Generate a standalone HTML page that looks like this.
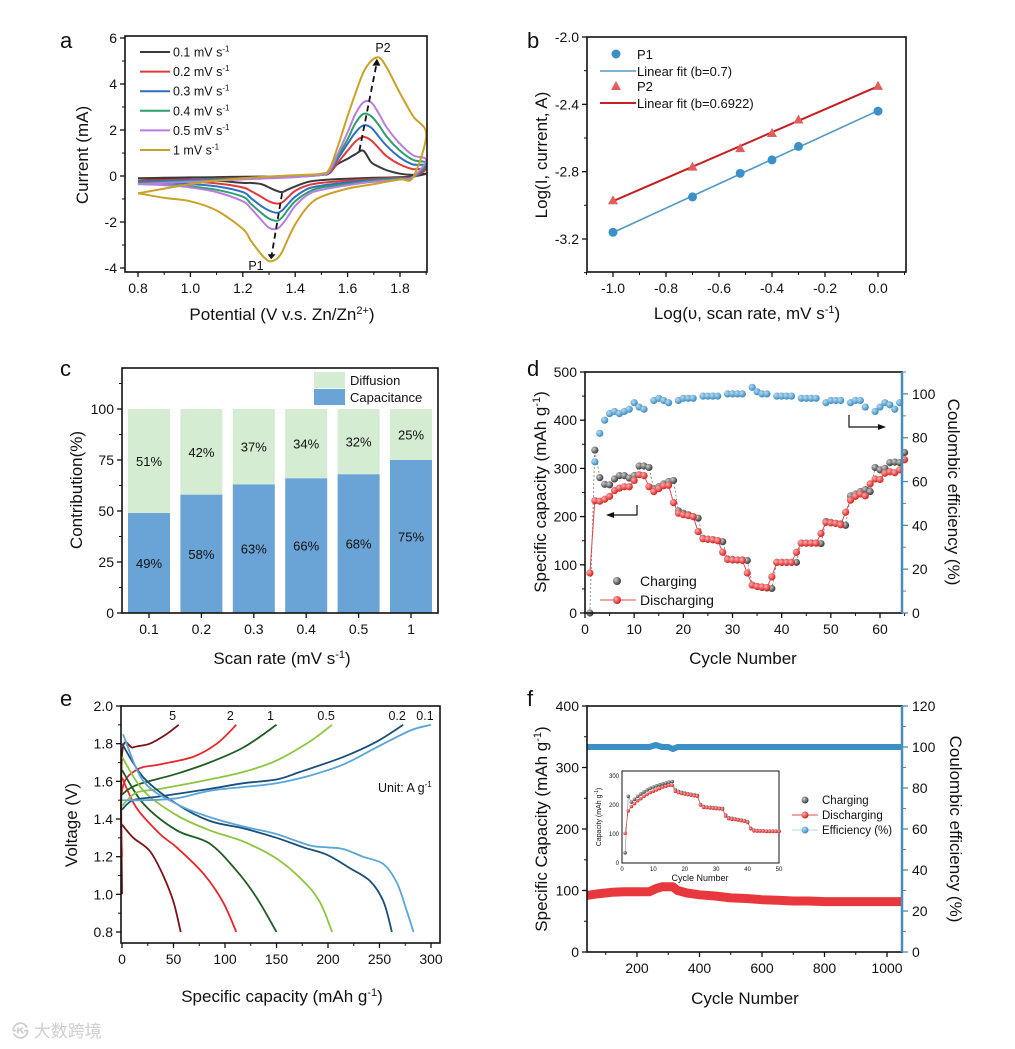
<!DOCTYPE html>
<html><head><meta charset="utf-8">
<style>
html,body{margin:0;padding:0;background:#fff;}
svg{display:block;font-family:"Liberation Sans","Noto Sans CJK SC",sans-serif;}
</style></head>
<body>
<svg id="fig" width="1015" height="1049" viewBox="0 0 1015 1049"></svg>
<script>
// ---------- Panel a data (CV curves) ----------
const cvVf = [0.8,0.9,1.0,1.1,1.2,1.3,1.4,1.5,1.53,1.56,1.6,1.63,1.66,1.69,1.72,1.75,1.8,1.85,1.9];
const cvVr = [1.9,1.85,1.8,1.7,1.6,1.5,1.45,1.4,1.37,1.35,1.33,1.3,1.27,1.23,1.2,1.1,1.0,0.9,0.8];
const cvLabels = ['0.1 mV s','0.2 mV s','0.3 mV s','0.4 mV s','0.5 mV s','1 mV s'];
const cvColors = ['#3a3a3a','#e03b3b','#2f6fc0','#2e9e6a','#b77de0','#c9a227'];
const cvFwd = [
 [-0.1,-0.08,-0.06,-0.05,-0.03,-0.02,0,0.05,0.12,0.5,0.75,0.95,1.1,0.6,0.4,0.25,0.1,0.05,0.1],
 [-0.2,-0.18,-0.15,-0.12,-0.09,-0.06,-0.03,0.05,0.15,0.55,1.1,1.5,1.7,1.55,1.2,0.85,0.5,0.3,0.3],
 [-0.25,-0.22,-0.18,-0.14,-0.1,-0.07,-0.03,0.05,0.18,0.7,1.4,1.9,2.2,2.1,1.7,1.3,0.8,0.5,0.45],
 [-0.3,-0.27,-0.22,-0.17,-0.12,-0.08,-0.04,0.05,0.2,0.8,1.6,2.3,2.7,2.6,2.2,1.7,1.1,0.7,0.55],
 [-0.35,-0.3,-0.25,-0.2,-0.15,-0.1,-0.05,0.05,0.2,0.9,1.9,2.7,3.2,3.2,2.7,2.1,1.4,0.9,0.7],
 [-0.75,-0.55,-0.35,-0.2,-0.1,-0.02,0.03,0.1,0.3,1.2,2.6,3.6,4.5,5.0,5.15,4.7,3.6,2.6,1.8]
];
const cvRev = [
 [0.05,-0.02,-0.05,-0.08,-0.12,-0.18,-0.25,-0.45,-0.6,-0.7,-0.65,-0.5,-0.35,-0.3,-0.3,-0.2,-0.15,-0.12,-0.1],
 [0.15,-0.04,-0.08,-0.13,-0.2,-0.3,-0.4,-0.65,-0.95,-1.15,-1.2,-1.1,-0.9,-0.65,-0.5,-0.32,-0.25,-0.2,-0.2],
 [0.2,-0.05,-0.1,-0.17,-0.28,-0.42,-0.55,-0.9,-1.25,-1.5,-1.6,-1.5,-1.3,-0.95,-0.7,-0.45,-0.35,-0.28,-0.25],
 [0.25,-0.05,-0.12,-0.2,-0.35,-0.5,-0.7,-1.1,-1.5,-1.8,-1.95,-1.85,-1.6,-1.2,-0.9,-0.6,-0.45,-0.35,-0.3],
 [0.3,-0.05,-0.15,-0.25,-0.4,-0.6,-0.8,-1.3,-1.8,-2.1,-2.3,-2.25,-1.9,-1.4,-1.1,-0.7,-0.5,-0.4,-0.35],
 [0.4,-0.05,-0.15,-0.35,-0.55,-0.9,-1.3,-2.1,-2.8,-3.3,-3.6,-3.7,-3.4,-2.8,-2.3,-1.5,-1.1,-0.95,-0.75]
];
// ---------- Panel b data ----------
const logRate = [-1,-0.7,-0.52,-0.4,-0.3,0];
const logP1 = [-3.16,-2.95,-2.81,-2.73,-2.65,-2.44];
const logP2 = [-2.97,-2.77,-2.66,-2.57,-2.49,-2.29];
// ---------- Panel c data ----------
const rateCats = ['0.1','0.2','0.3','0.4','0.5','1'];
const capPct = [49,58,63,66,68,75];
const diffPct = [51,42,37,34,32,25];
// ---------- Panel d data ----------
const chg = [0,338,281,267,266,278,285,285,280,285,305,305,302,258,262,268,273,275,212,207,204,200,197,155,153,152,150,148,112,111,110,110,109,58,55,53,52,51,105,105,105,105,105,145,145,145,145,144,190,188,186,185,182,243,247,252,256,252,302,297,300,312,313,312,333];
const dis = [83,233,232,236,242,254,259,262,262,275,287,285,262,252,258,264,265,229,207,204,202,200,169,154,153,152,150,126,111,110,110,109,83,58,55,54,53,75,105,105,105,105,126,145,145,145,145,165,188,187,186,183,209,234,242,247,243,268,278,277,290,293,291,297,318];
const ce = [null,69,82,88,91,92,91,92,93,96,94,93,null,97,98,97,96,null,97,98,98,98,null,99,99,99,99,null,100,100,100,100,null,103,101,100,100,null,99,99,99,99,null,98,98,98,98,null,96,97,97,97,null,96,97,97,94,null,92,94,96,95,93,96,null];
// ---------- Panel e data (GCD) ----------
const gcdRates = ['5','2','1','0.5','0.2','0.1'];
const gcdColors = ['#7a1218','#e8262a','#1f5e22','#8cc63f','#1a4f7a','#5aa6d6'];
const gcdDisCap = [[0,11,27,40,50,57],[0,14,37,53,79,98,111],[0,21,53,85,112,131,150],[0,21,53,85,118,150,176,192,204],[0,21,53,85,118,150,176,199,221,241,254,262],[1,21,53,85,118,150,182,199,215,234,254,267,276,283]];
const gcdDisV = [[1.37,1.30,1.23,1.10,0.96,0.80],[1.62,1.46,1.32,1.25,1.11,0.96,0.80],[1.66,1.48,1.34,1.27,1.12,0.98,0.80],[1.73,1.55,1.42,1.34,1.28,1.19,1.07,0.96,0.80],[1.80,1.62,1.48,1.39,1.35,1.30,1.25,1.21,1.14,1.07,0.96,0.80],[1.85,1.60,1.48,1.41,1.36,1.32,1.26,1.25,1.24,1.20,1.16,1.06,0.92,0.80]];
const gcdChgCap = [[0,0,11,27,43,55],[0,0,14,37,69,92,111],[0,14,53,85,118,150],[0,14,37,85,118,150,182,204],[0,11,37,85,118,150,173,215,247,273],[0,21,53,85,118,150,182,215,247,280,300]];
const gcdChgV = [[1.0,1.74,1.78,1.80,1.85,1.90],[1.2,1.55,1.66,1.69,1.73,1.80,1.90],[1.53,1.58,1.64,1.70,1.78,1.90],[1.47,1.54,1.56,1.61,1.65,1.71,1.81,1.90],[1.45,1.50,1.52,1.56,1.59,1.61,1.65,1.73,1.81,1.90],[1.50,1.50,1.51,1.55,1.57,1.59,1.63,1.69,1.78,1.87,1.90]];
// ---------- Panel f data ----------
const longCyc = [40,80,120,160,200,240,260,280,300,315,330,360,400,450,500,550,600,650,700,750,800,850,900,950,1000,1048];
const longDis = [92,95,97,98,98,98,103,106,106,106,100,96,93,91,88,87,85,84,83,83,82,82,82,82,82,82];
const longCE = [100,100,100,100,100,100,101,100,100,99,100,100,100,100,100,100,100,100,100,100,100,100,100,100,100,100];
const insetCyc = [1,2,3,4,5,6,7,8,9,10,11,12,13,14,15,16,17,18,19,20,21,22,23,24,25,26,27,28,29,30,31,32,33,34,35,36,37,38,39,40,41,42,43,44,45,46,47,48,49,50];
const insetChg = [35,230,210,220,230,238,245,252,258,262,266,270,273,276,279,281,252,247,244,241,239,237,235,233,202,195,193,192,191,190,189,188,165,156,154,152,150,148,146,142,120,113,112,111,111,110,110,110,110,110];
const insetDis = [102,180,195,205,215,222,230,237,243,248,252,257,262,265,268,268,247,243,240,238,236,234,232,230,200,192,191,190,189,188,187,186,162,153,151,150,148,146,144,140,118,111,110,110,110,109,109,109,109,109];

const NS='http://www.w3.org/2000/svg';
const svg=document.getElementById('fig');
function mk(tag,attrs,name,parent){
  const el=document.createElementNS(NS,tag);
  for(const k in attrs) el.setAttribute(k,attrs[k]);
  
  
  (parent||svg).appendChild(el);
  return el;
}
function txt(x,y,s,size,name,opts){
  opts=opts||{};
  const t=mk('text',{x:x,y:y,'font-size':size,fill:opts.fill||'#111','text-anchor':opts.anchor||'middle'},name);
  if(opts.rot) t.setAttribute('transform','rotate('+opts.rot+' '+x+' '+y+')');
  t.innerHTML=s;
  return t;
}
function lin(d0,d1,r0,r1){return v=>r0+(v-d0)/(d1-d0)*(r1-r0);}
function box(l,t,r,b,name){mk('rect',{x:l,y:t,width:r-l,height:b-t,fill:'none',stroke:'#111','stroke-width':1.6},name);}
const TF=14, AF=17;
function xTicks(sx,vals,fmt,b,name,minor){
  vals.forEach(v=>{const x=sx(v);
    mk('line',{x1:x,y1:b,x2:x,y2:b+5,stroke:'#111','stroke-width':1.3},name+'-tick');
    txt(x,b+21,fmt(v),TF,name+'-label');});
  if(minor) minor.forEach(v=>{const x=sx(v);mk('line',{x1:x,y1:b,x2:x,y2:b+3,stroke:'#111','stroke-width':1},name+'-minor-tick');});
}
function yTicks(sy,vals,fmt,l,name,minor,right,color){
  const c=color||'#111';
  vals.forEach(v=>{const y=sy(v);
    mk('line',{x1:l,y1:y,x2:right?l+5:l-5,y2:y,stroke:c,'stroke-width':1.3},name+'-tick');
    txt(right?l+9:l-8,y+5,fmt(v),TF,name+'-label',{anchor:right?'start':'end'});});
  if(minor) minor.forEach(v=>{const y=sy(v);mk('line',{x1:l,y1:y,x2:right?l+3:l-3,y2:y,stroke:c,'stroke-width':1},name+'-minor-tick');});
}
function pathOf(xs,ys,sx,sy){let d='';let pen=false;xs.forEach((x,i)=>{if(ys[i]==null){pen=false;return;}d+=(pen?'L':'M')+sx(x).toFixed(1)+' '+sy(ys[i]).toFixed(1);pen=true;});return d;}
function smoothPts(P){
  if(P.length<3){return 'M'+P.map(p=>p[0].toFixed(1)+' '+p[1].toFixed(1)).join(' L');}
  let d='M'+P[0][0].toFixed(1)+' '+P[0][1].toFixed(1);
  for(let i=0;i<P.length-1;i++){
    const p0=P[Math.max(0,i-1)],p1=P[i],p2=P[i+1],p3=P[Math.min(P.length-1,i+2)];
    const c1=[p1[0]+(p2[0]-p0[0])/6,p1[1]+(p2[1]-p0[1])/6],c2=[p2[0]-(p3[0]-p1[0])/6,p2[1]-(p3[1]-p1[1])/6];
    d+='C'+c1[0].toFixed(1)+' '+c1[1].toFixed(1)+' '+c2[0].toFixed(1)+' '+c2[1].toFixed(1)+' '+p2[0].toFixed(1)+' '+p2[1].toFixed(1);
  }
  return d;
}
function smoothOf(xs,ys,sx,sy){return smoothPts(xs.map((x,i)=>[sx(x),sy(ys[i])]));}
function range(a,b,s){const r=[];for(let v=a;v<=b+1e-9;v+=s)r.push(+v.toFixed(4));return r;}
const gradDefs=mk('defs',{},'defs');
function grad(id,c1,c2){const g=mk('radialGradient',{id:id,cx:'35%',cy:'35%',r:'65%'},'marker-gradient',gradDefs);
 mk('stop',{offset:'0%','stop-color':c1},'grad-stop',g);mk('stop',{offset:'100%','stop-color':c2},'grad-stop',g);}
grad('gGray','#cfcfcf','#3a3a3a');grad('gRed','#ffb0b0','#d62020');grad('gBlue','#b7dcf2','#3c8cc0');

// panel letters
[['a',60,48],['b',527,48],['c',60,376],['d',527,376],['e',60,706],['f',527,706]].forEach(p=>txt(p[1],p[2],p[0],22,'panel-label-'+p[0],{anchor:'start'}));

// ================= Panel a =================
{
 const xa=lin(0.8,1.8,138,400), ya=lin(-4,6,268,38);
 const g=mk('g',{},'cv-curves');
 for(let i=0;i<6;i++){
  const xs=cvVf.concat(cvVr.slice(1)), ys=cvFwd[i].concat(cvRev[i].slice(1));
  mk('path',{d:smoothOf(xs,ys,xa,ya),fill:'none',stroke:cvColors[i],'stroke-width':2,'stroke-linejoin':'round'},'cv-curve-'+cvLabels[i].split(' ')[0],g);
 }
 box(125,36,427,272,'cv-plot-frame');
 xTicks(xa,range(0.8,1.8,0.2),v=>v.toFixed(1),272,'cv-x',range(0.9,1.9,0.2));
 yTicks(ya,range(-4,6,2),v=>String(v),125,'cv-y',range(-3,5,2));
 mk('line',{x1:xa(1.35),y1:ya(-0.75),x2:xa(1.31),y2:ya(-3.45),stroke:'#111','stroke-width':1.8,'stroke-dasharray':'6 4'},'p1-arrow');
 mk('path',{d:'M'+(xa(1.31)-4)+' '+(ya(-3.4))+' L'+xa(1.308)+' '+(ya(-3.62))+' L'+(xa(1.31)+4)+' '+ya(-3.4)+'Z',fill:'#111'},'p1-arrowhead');
 mk('line',{x1:xa(1.645),y1:ya(1.1),x2:xa(1.71),y2:ya(4.85),stroke:'#111','stroke-width':1.8,'stroke-dasharray':'6 4'},'p2-arrow');
 mk('path',{d:'M'+(xa(1.71)-4)+' '+ya(4.8)+' L'+xa(1.712)+' '+ya(5.1)+' L'+(xa(1.71)+4)+' '+ya(4.8)+'Z',fill:'#111'},'p2-arrowhead');
 txt(256,270,'P1',12.5,'p1-label');
 txt(383,52,'P2',12.5,'p2-label');
 for(let i=0;i<6;i++){const y=52+i*19.6;
  mk('line',{x1:140,y1:y,x2:170,y2:y,stroke:cvColors[i],'stroke-width':2},'cv-legend-line');
  txt(173,y+4.5,cvLabels[i]+'<tspan dy="-5" font-size="8">-1</tspan>',12.5,'cv-legend-entry',{anchor:'start'});}
 txt(88,155,'Current (mA)',AF,'cv-y-axis-title',{rot:-90});
 txt(282,320,'Potential (V v.s. Zn/Zn<tspan dy="-6" font-size="11">2+</tspan><tspan dy="6">)</tspan>',AF,'cv-x-axis-title');
}
// ================= Panel b =================
{
 const xb=lin(-1,0,613,878), yb=lin(-3.2,-2.0,239,37);
 function fit(xs,ys){const n=xs.length,mx=xs.reduce((a,b)=>a+b)/n,my=ys.reduce((a,b)=>a+b)/n;let sxy=0,sxx=0;xs.forEach((x,i)=>{sxy+=(x-mx)*(ys[i]-my);sxx+=(x-mx)*(x-mx);});const k=sxy/sxx;return [k,my-k*mx];}
 const f1=fit(logRate,logP1),f2=fit(logRate,logP2);
 mk('line',{x1:xb(-1),y1:yb(f1[1]-f1[0]),x2:xb(0),y2:yb(f1[1]),stroke:'#4f9bc4','stroke-width':1.6},'p1-fit-line');
 mk('line',{x1:xb(-1),y1:yb(f2[1]-f2[0]),x2:xb(0),y2:yb(f2[1]),stroke:'#c41e1e','stroke-width':2},'p2-fit-line');
 logRate.forEach((x,i)=>{mk('circle',{cx:xb(x),cy:yb(logP1[i]),r:4.5,fill:'#3d8fc8'},'p1-point');
  const cx=xb(x),cy=yb(logP2[i]);mk('path',{d:'M'+(cx-5)+' '+(cy+4)+' L'+cx+' '+(cy-5)+' L'+(cx+5)+' '+(cy+4)+'Z',fill:'#e35d5d'},'p2-point');});
 box(587,37,906,272,'log-plot-frame');
 xTicks(xb,range(-1,0,0.2),v=>v.toFixed(1),272,'log-x',range(-1.1,0.1,0.2));
 yTicks(yb,range(-3.2,-2.0,0.4),v=>v.toFixed(1),587,'log-y',range(-3.4,-2.2,0.4));
 mk('circle',{cx:616,cy:54,r:4.5,fill:'#3d8fc8'},'legend-p1-marker');
 txt(637,59,'P1',13,'legend-p1',{anchor:'start'});
 mk('line',{x1:600,y1:71,x2:636,y2:71,stroke:'#4f9bc4','stroke-width':1.6},'legend-fit1-line');
 txt(637,76,'Linear fit (b=0.7)',13,'legend-fit1',{anchor:'start'});
 mk('path',{d:'M611 90 L616 81 L621 90Z',fill:'#e35d5d'},'legend-p2-marker');
 txt(637,91,'P2',13,'legend-p2',{anchor:'start'});
 mk('line',{x1:600,y1:103,x2:636,y2:103,stroke:'#c41e1e','stroke-width':2},'legend-fit2-line');
 txt(637,108,'Linear fit (b=0.6922)',13,'legend-fit2',{anchor:'start'});
 txt(547,155,'Log(I, current, A)',AF,'log-y-axis-title',{rot:-90});
 txt(747,319,'Log(υ, scan rate, mV s<tspan dy="-6" font-size="11">-1</tspan><tspan dy="6">)</tspan>',AF,'log-x-axis-title');
}
// ================= Panel c =================
{
 const yc=lin(0,100,613,409);
 const xc=i=>149+i*52.4;
 rateCats.forEach((c,i)=>{const x=xc(i)-21;
  mk('rect',{x:x,y:yc(100),width:42,height:yc(capPct[i])-yc(100),fill:'#d4ecd1'},'bar-diffusion-'+c);
  mk('rect',{x:x,y:yc(capPct[i]),width:42,height:yc(0)-yc(capPct[i]),fill:'#6aa3d5'},'bar-capacitance-'+c);
  txt(xc(i),yc(capPct[i]/2)+5,capPct[i]+'%',13,'capacitance-value-label');
  txt(xc(i),yc(capPct[i]+diffPct[i]/2)+5,diffPct[i]+'%',13,'diffusion-value-label');
  mk('line',{x1:xc(i),y1:613,x2:xc(i),y2:618,stroke:'#111','stroke-width':1.3},'contrib-x-tick');
  txt(xc(i),634,c,TF,'contrib-x-label');
 });
 box(122,368,438,613,'contrib-plot-frame');
 yTicks(yc,[0,25,50,75,100],v=>String(v),122,'contrib-y',[12.5,37.5,62.5,87.5,112.5]);
 mk('rect',{x:314,y:372,width:31,height:16,fill:'#d4ecd1'},'legend-diffusion-swatch');
 txt(350,385,'Diffusion',13,'legend-diffusion',{anchor:'start'});
 mk('rect',{x:314,y:389,width:31,height:16,fill:'#6aa3d5'},'legend-capacitance-swatch');
 txt(350,402,'Capacitance',13,'legend-capacitance',{anchor:'start'});
 txt(82,490,'Contribution(%)',AF,'contrib-y-axis-title',{rot:-90});
 txt(282,664,'Scan rate (mV s<tspan dy="-6" font-size="11">-1</tspan><tspan dy="6">)</tspan>',AF,'contrib-x-axis-title');
}
// ================= Panel d =================
{
 const xd=lin(0,60,585,880), yd=lin(0,500,613,372), yr=lin(0,110,613,372);
 const cyc=chg.map((_,i)=>i+1);
 mk('path',{d:pathOf(cyc,chg,xd,yd),fill:'none',stroke:'#777','stroke-width':0.8,'stroke-dasharray':'2 2'},'charging-line');
 mk('path',{d:pathOf(cyc,dis,xd,yd),fill:'none',stroke:'#e04848','stroke-width':1},'discharging-line');
 cyc.forEach((c,i)=>{mk('circle',{cx:xd(c),cy:yd(chg[i]),r:3.6,fill:'url(#gGray)'},'charging-point');});
 cyc.forEach((c,i)=>{mk('circle',{cx:xd(c),cy:yd(dis[i]),r:3.6,fill:'url(#gRed)'},'discharging-point');});
 cyc.forEach((c,i)=>{if(ce[i]!=null)mk('circle',{cx:xd(c),cy:yr(ce[i]),r:3.6,fill:'url(#gBlue)'},'efficiency-point');});
 mk('rect',{x:585,y:372,width:317,height:241,fill:'none',stroke:'#111','stroke-width':1.6},'rate-plot-frame');
 mk('line',{x1:902,y1:372,x2:902,y2:613,stroke:'#4a8db7','stroke-width':2.5},'rate-right-axis');
 xTicks(xd,range(0,60,10),v=>String(v),613,'rate-x',range(5,65,10));
 yTicks(yd,range(0,500,100),v=>String(v),585,'rate-y',range(50,450,100));
 yTicks(yr,range(0,100,20),v=>String(v),903,'rate-y2',range(10,110,20),true,'#4a8db7');
 mk('path',{d:'M637 505 L637 515 L608 515',fill:'none',stroke:'#111','stroke-width':1.2},'left-axis-arrow');
 mk('path',{d:'M606 515 L614 512 L614 518Z',fill:'#111'},'left-axis-arrowhead');
 mk('path',{d:'M849 415 L849 427 L882 427',fill:'none',stroke:'#111','stroke-width':1.2},'right-axis-arrow');
 mk('path',{d:'M886 427 L878 424 L878 430Z',fill:'#111'},'right-axis-arrowhead');
 mk('circle',{cx:617,cy:581,r:4,fill:'url(#gGray)'},'legend-charging-marker');
 txt(640,586,'Charging',14,'legend-charging',{anchor:'start'});
 mk('line',{x1:600,y1:600,x2:636,y2:600,stroke:'#e04848','stroke-width':1},'legend-discharging-line');
 mk('circle',{cx:617,cy:600,r:4,fill:'url(#gRed)'},'legend-discharging-marker');
 txt(640,605,'Discharging',14,'legend-discharging',{anchor:'start'});
 txt(546,492,'Specific capacity (mAh g<tspan dy="-6" font-size="11">-1</tspan><tspan dy="6">)</tspan>',AF,'rate-y-axis-title',{rot:-90});
 txt(948,492,'Coulombic efficiency (%)',AF,'rate-y2-axis-title',{rot:90});
 txt(743,664,'Cycle Number',AF,'rate-x-axis-title');
}
// ================= Panel e =================
{
 const xe=lin(0,300,122,431), ye=lin(0.8,2.0,932,706);
 for(let i=0;i<6;i++){
  mk('path',{d:smoothOf(gcdDisCap[i],gcdDisV[i],xe,ye),fill:'none',stroke:gcdColors[i],'stroke-width':1.8,'stroke-linejoin':'round'},'discharge-curve-'+gcdRates[i]);
  mk('path',{d:smoothOf(gcdChgCap[i],gcdChgV[i],xe,ye),fill:'none',stroke:gcdColors[i],'stroke-width':1.8,'stroke-linejoin':'round'},'charge-curve-'+gcdRates[i]);
  const n=gcdChgCap[i].length-1;
  txt(xe(gcdChgCap[i][n])-6,720,gcdRates[i],12.5,'rate-label-'+gcdRates[i]);
 }
 box(121,706,440,943,'gcd-plot-frame');
 xTicks(xe,range(0,300,50),v=>String(v),943,'gcd-x',range(25,275,50));
 yTicks(ye,range(0.8,2.0,0.2),v=>v.toFixed(1),121,'gcd-y',range(0.9,1.9,0.2));
 txt(378,792,'Unit: A g<tspan dy="-5" font-size="8">-1</tspan>',12.5,'unit-label',{anchor:'start'});
 txt(77,825,'Voltage (V)',AF,'gcd-y-axis-title',{rot:-90});
 txt(282,1002,'Specific capacity (mAh g<tspan dy="-6" font-size="11">-1</tspan><tspan dy="6">)</tspan>',AF,'gcd-x-axis-title');
}
// ================= Panel f =================
{
 const xf=lin(200,1000,637,887), yf=lin(0,400,952,706), yr=lin(0,120,952,706);
 mk('path',{d:pathOf(longCyc,longCE,xf,yr),fill:'none',stroke:'#3a8fc4','stroke-width':6,'stroke-linejoin':'round'},'long-efficiency-band');
 mk('path',{d:pathOf(longCyc,longDis,xf,yf),fill:'none',stroke:'#e8383d','stroke-width':9,'stroke-linejoin':'round'},'long-discharge-band');
 mk('rect',{x:587,y:706,width:315,height:246,fill:'none',stroke:'#111','stroke-width':1.6},'long-plot-frame');
 mk('line',{x1:902,y1:706,x2:902,y2:952,stroke:'#4a8db7','stroke-width':2.5},'long-right-axis');
 xTicks(xf,range(200,1000,200),v=>String(v),952,'long-x',range(100,900,200));
 yTicks(yf,range(0,400,100),v=>String(v),587,'long-y',range(50,350,100));
 yTicks(yr,range(0,120,20),v=>String(v),903,'long-y2',range(10,110,20),true,'#4a8db7');
 const xi=lin(0,50,622,779), yi=lin(0,300,863,776);
 mk('rect',{x:622,y:771,width:157,height:92,fill:'#fff',stroke:'#111','stroke-width':1},'inset-frame');
 mk('path',{d:pathOf(insetCyc,insetChg,xi,yi),fill:'none',stroke:'#888','stroke-width':0.6},'inset-charging-line');
 insetCyc.forEach((c,i)=>mk('circle',{cx:xi(c),cy:yi(insetChg[i]),r:1.8,fill:'url(#gGray)'},'inset-charging-point'));
 mk('path',{d:pathOf(insetCyc,insetDis,xi,yi),fill:'none',stroke:'#e04848','stroke-width':0.6},'inset-discharging-line');
 insetCyc.forEach((c,i)=>mk('circle',{cx:xi(c),cy:yi(insetDis[i]),r:1.8,fill:'url(#gRed)'},'inset-discharging-point'));
 [0,10,20,30,40,50].forEach(v=>txt(xi(v),871,String(v),6,'inset-x-label'));
 [0,100,200,300].forEach(v=>txt(619,yi(v)+2,String(v),6,'inset-y-label',{anchor:'end'}));
 txt(700,881,'Cycle Number',9,'inset-x-title');
 txt(601,817,'Capacity (mAh g<tspan dy="-3" font-size="5">-1</tspan><tspan dy="3">)</tspan>',7,'inset-y-title',{rot:-90});
 mk('circle',{cx:805,cy:800,r:3.5,fill:'url(#gGray)'},'legend-f-charging-marker');
 txt(822,804,'Charging',11.5,'legend-f-charging',{anchor:'start'});
 mk('line',{x1:792,y1:815,x2:818,y2:815,stroke:'#e04848','stroke-width':1},'legend-f-discharging-line');
 mk('circle',{cx:805,cy:815,r:3.5,fill:'url(#gRed)'},'legend-f-discharging-marker');
 txt(822,819,'Discharging',11.5,'legend-f-discharging',{anchor:'start'});
 mk('line',{x1:792,y1:830,x2:818,y2:830,stroke:'#9cc9e4','stroke-width':0.8},'legend-f-efficiency-line');
 mk('circle',{cx:805,cy:830,r:3.5,fill:'url(#gBlue)'},'legend-f-efficiency-marker');
 txt(822,834,'Efficiency (%)',11.5,'legend-f-efficiency',{anchor:'start'});
 txt(547,829,'Specific Capacity (mAh g<tspan dy="-6" font-size="11">-1</tspan><tspan dy="6">)</tspan>',AF,'long-y-axis-title',{rot:-90});
 txt(950,829,'Coulombic efficiency (%)',AF,'long-y2-axis-title',{rot:90});
 txt(745,1004,'Cycle Number',AF,'long-x-axis-title');
}
txt(12,1037,'㉿ 大数跨境',17,'watermark',{anchor:'start',fill:'#cfcfcf'});
</script>
</body></html>
